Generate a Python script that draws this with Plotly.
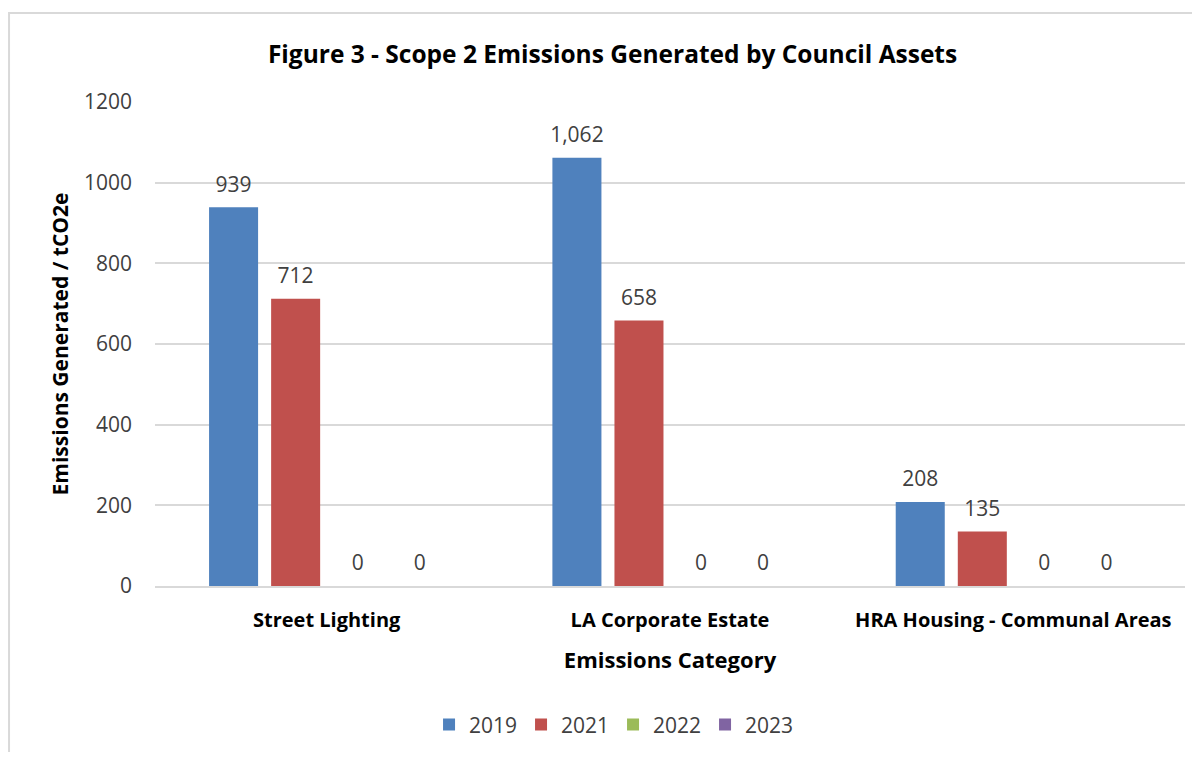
import plotly.graph_objects as go

# Emissions data (tCO2e)
categories = ["Street Lighting", "LA Corporate Estate", "HRA Housing - Communal Areas"]
years = ["2019", "2021", "2022", "2023"]
values_2019 = [939, 1062, 208]
values_2021 = [712, 658, 135]
values_2022 = [0, 0, 0]
values_2023 = [0, 0, 0]
colors = ["#4F81BD", "#C0504D", "#9BBB59", "#8064A2"]

series = [values_2019, values_2021, values_2022, values_2023]

fig = go.Figure()
for year, vals, col in zip(years, series, colors):
    fig.add_trace(go.Bar(
        name=year, x=categories, y=vals, offsetgroup=year,
        marker=dict(color=col, line=dict(width=0)),
    ))

# data labels, grouped like the bars so they sit above each one
for year, vals in zip(years, series):
    fig.add_trace(go.Scatter(
        x=categories, y=vals, offsetgroup=year, mode="markers+text",
        marker=dict(size=15, opacity=0), text=["{:,}".format(v) for v in vals],
        textposition="top center", textfont=dict(size=21, color="#404040"),
        showlegend=False, hoverinfo="skip", cliponaxis=False,
    ))

fig.update_layout(
    width=1184, height=744,
    paper_bgcolor="white", plot_bgcolor="white",
    font=dict(family="Open Sans", color="#000000"),
    margin=dict(l=147, r=7, t=94, b=162),
    barmode="group", bargap=0.277, bargroupgap=0.21,
    scattermode="group", scattergap=0.277,
    title=dict(text="<b>Figure 3 - Scope 2 Emissions Generated by Council Assets</b>",
               x=0.5106, xanchor="center", y=0.938, yanchor="middle",
               font=dict(size=24.5, color="#000000")),
    legend=dict(orientation="h", x=0.4447, xanchor="center", y=-0.287, yanchor="middle",
                font=dict(size=21, color="#404040"), itemwidth=30, traceorder="normal",
                entrywidth=47),
    showlegend=True,
)

fig.update_yaxes(
    range=[0, 1200], dtick=200, showgrid=True, gridcolor="#D9D9D9", gridwidth=2,
    zeroline=False, showline=False, ticks="", ticklabelstandoff=22,
    tickfont=dict(size=21, color="#404040"),
    title=dict(text="<b>Emissions Generated / tCO2e</b>", font=dict(size=21, color="#000000"), standoff=9),
)
fig.update_xaxes(
    showline=True, linecolor="#D9D9D9", linewidth=2, ticks="", ticklabelstandoff=15,
    tickfont=dict(size=20, color="#000000"),
    tickvals=categories, ticktext=["<b>%s</b>" % c for c in categories],
    title=dict(text="<b>Emissions Category</b>", font=dict(size=22, color="#000000"), standoff=21),
)

# chart border
fig.add_shape(type="rect", xref="paper", yref="paper",
              x0=-0.1417, x1=1.08, y0=-0.40, y1=1.184,
              line=dict(color="#D9D9D9", width=2), layer="below")

fig.write_html("out.html")
